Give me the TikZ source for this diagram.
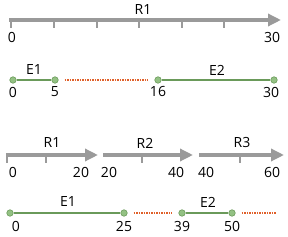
\documentclass[tikz,border=0pt]{standalone}
\usepackage{fontspec}
\setmainfont{Open Sans}
\usetikzlibrary{arrows.meta}
\definecolor{axisgray}{HTML}{9A9A9A}
\definecolor{segline}{HTML}{6A9A5A}
\definecolor{segdot}{HTML}{93C183}
\definecolor{gapred}{HTML}{E0602A}
\tikzset{
  axis/.style={draw=axisgray, line width=4pt, -{Triangle[length=13pt, width=12pt]}},
  tick/.style={draw=axisgray, line width=2.5pt},
  seg/.style={draw=segline, line width=2pt},
  gap/.style={draw=gapred, line width=1.6pt, dash pattern=on 1.5pt off 1pt},
  pt/.style={circle, fill=segdot, draw=segline, line width=0.6pt, inner sep=0pt, minimum size=6.5pt},
  lbl/.style={font=\fontsize{14}{16}\selectfont, inner sep=0pt}
}
\begin{document}
\begin{tikzpicture}[x=1pt, y=-1pt]
  \useasboundingbox (0,0) rectangle (288,237);

  % Hàng 1: trục R1 từ 0 đến 30
  \coordinate (a0) at (9,20);
  \coordinate (a1) at (281,20);
  \draw[axis] (a0) -- (a1);
  \foreach \x in {11,54,97,139,182,224}
    \draw[tick] (\x,20) -- (\x,28);
  \node[lbl] (r1top) at (143,10) {R1};
  \node[lbl] (n0top) at (12,37) {0};
  \node[lbl] (n30top) at (272,37) {30};

  % Hàng 2: hai đoạn E1, E2 và khoảng trống
  \node[pt] (p0) at (13,80) {};
  \node[pt] (p5) at (55,80) {};
  \node[pt] (p16) at (158,80) {};
  \node[pt] (p30) at (274,80) {};
  \draw[seg] (p0) -- (p5);
  \draw[seg] (p16) -- (p30);
  \draw[gap] ([xshift=6pt]p5.east) -- ([xshift=-6pt]p16.west);
  \node[lbl] (e1a) at (34,70) {E1};
  \node[lbl] (e2a) at (217,70) {E2};
  \node[lbl] (l0a) at (13,92) {0};
  \node[lbl] (l5a) at (55,92) {5};
  \node[lbl] (l16a) at (158,92) {16};
  \node[lbl] (l30a) at (271,92) {30};

  % Hàng 3: ba trục R1, R2, R3
  \coordinate (b0) at (7,155);
  \coordinate (b1) at (98,155);
  \coordinate (c0) at (103,155);
  \coordinate (c1) at (193,155);
  \coordinate (d0) at (199,155);
  \coordinate (d1) at (284,155);
  \draw[axis] ([xshift=-1.25pt]b0) -- (b1);
  \draw[axis] (c0) -- (c1);
  \draw[axis] (d0) -- (d1);
  \foreach \x in {7,46,142,240}
    \draw[tick] (\x,155) -- (\x,163);
  \node[lbl] (r1) at (52,143) {R1};
  \node[lbl] (r2) at (145,143) {R2};
  \node[lbl] (r3) at (242,143) {R3};
  \node[lbl] (m0) at (13,172) {0};
  \node[lbl] (m20a) at (81,172) {20};
  \node[lbl] (m20b) at (109,172) {20};
  \node[lbl] (m40a) at (176,172) {40};
  \node[lbl] (m40b) at (206,172) {40};
  \node[lbl] (m60) at (272,172) {60};

  % Hàng 4: đoạn E1, E2 trên trục dài
  \node[pt] (q0) at (10,213) {};
  \node[pt] (q25) at (124,213) {};
  \node[pt] (q39) at (182,213) {};
  \node[pt] (q50) at (232,213) {};
  \coordinate (qend) at (276,213);
  \draw[seg] (q0) -- (q25);
  \draw[seg] (q39) -- (q50);
  \draw[gap] ([xshift=6pt]q25.east) -- ([xshift=-6pt]q39.west);
  \draw[gap] ([xshift=6pt]q50.east) -- (qend);
  \node[lbl] (e1b) at (68,202) {E1};
  \node[lbl] (e2b) at (208,202) {E2};
  \node[lbl] (k0) at (16,226) {0};
  \node[lbl] (k25) at (124,226) {25};
  \node[lbl] (k39) at (182,226) {39};
  \node[lbl] (k50) at (232,226) {50};
\end{tikzpicture}
\end{document}
